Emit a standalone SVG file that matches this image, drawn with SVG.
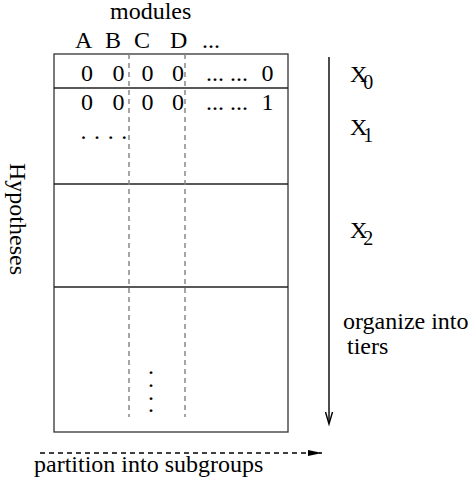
<svg xmlns="http://www.w3.org/2000/svg" width="474" height="482" viewBox="0 0 474 482">
<style>
text{font-family:"Liberation Serif","Times New Roman","DejaVu Serif",serif;font-size:24px;fill:#000}
.box{fill:none;stroke:#333;stroke-width:1.3}
.sep{stroke:#222;stroke-width:1.3}
.col{stroke:#808080;stroke-width:1.4;stroke-dasharray:5 4;fill:none}
.arr{stroke:#000;stroke-width:1.4;fill:none}
.sub{font-size:20px}
</style>
<defs>
<marker id="fh" viewBox="0 0 14 8" refX="14" refY="4" markerWidth="14" markerHeight="8" markerUnits="userSpaceOnUse" orient="auto">
<path d="M0,1 L14,4 L0,7 Z" fill="#000"/>
</marker>
</defs>
<rect width="474" height="482" fill="#fff"/>
<g id="header">
<text x="110" y="19">modules</text>
<text x="75" y="48">A</text>
<text x="105" y="48">B</text>
<text x="134" y="48">C</text>
<text x="170" y="48">D</text>
<text x="202" y="48">...</text>
</g>
<g id="table">
<rect class="box" x="54" y="54" width="234" height="378"/>
<line class="sep" x1="54" y1="88" x2="288" y2="88"/>
<line class="sep" x1="54" y1="184" x2="288" y2="184"/>
<line class="sep" x1="54" y1="287" x2="288" y2="287"/>
<line class="col" x1="129" y1="54" x2="129" y2="417"/>
<line class="col" x1="185" y1="54" x2="185" y2="417"/>
</g>
<g id="row0">
<text x="81" y="81">0</text>
<text x="112.5" y="81">0</text>
<text x="141.5" y="81">0</text>
<text x="172" y="81">0</text>
<text x="206" y="81">... ...</text>
<text x="261.5" y="81">0</text>
</g>
<g id="row1">
<text x="81" y="110">0</text>
<text x="112.5" y="110">0</text>
<text x="141.5" y="110">0</text>
<text x="172" y="110">0</text>
<text x="206" y="110">... ...</text>
<text x="261.5" y="110">1</text>
<text x="80.5" y="139" letter-spacing="0.8">. . . .</text>
</g>
<g id="vdots">
<text x="148" y="374">.<tspan x="148" dy="13">.</tspan><tspan x="148" dy="13">.</tspan><tspan x="148" dy="12">.</tspan></text>
</g>
<g id="ylabel">
<text transform="translate(10,163) rotate(90)">Hypotheses</text>
</g>
<g id="tiers">
<text x="350" y="82">X<tspan class="sub" dx="-4" dy="7">0</tspan></text>
<text x="350" y="135">X<tspan class="sub" dx="-4" dy="7">1</tspan></text>
<text x="350" y="238">X<tspan class="sub" dx="-4" dy="7">2</tspan></text>
<text x="343" y="329">organize into</text>
<text x="347" y="354">tiers</text>
</g>
<g id="connectors">
<line class="arr" x1="329" y1="57" x2="329" y2="423"/>
<path class="arr" d="M325.5,412 L329,424 L332.5,412"/>
<line class="arr" x1="40" y1="453" x2="322" y2="453" stroke-dasharray="5 4" marker-end="url(#fh)"/>
</g>
<g id="xlabel">
<text x="34" y="472">partition into subgroups</text>
</g>
</svg>
